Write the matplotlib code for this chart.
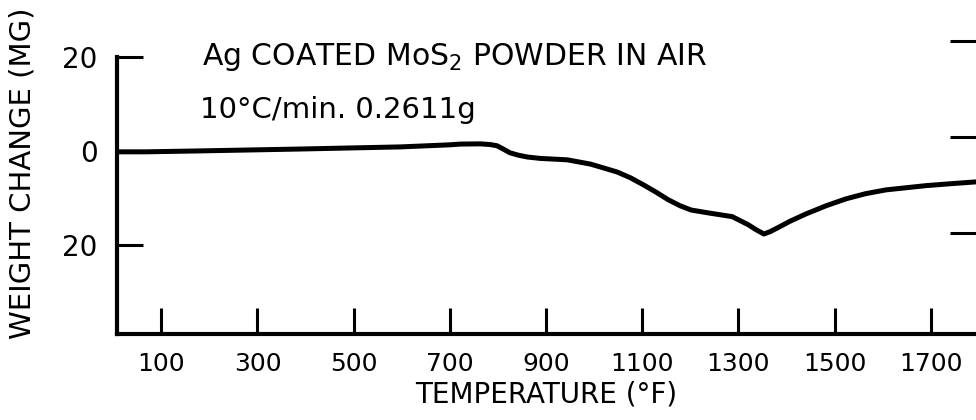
import matplotlib
matplotlib.use("Agg")
import matplotlib.pyplot as plt
from matplotlib.ticker import FixedLocator, FixedFormatter

# Данные (температура в °F, изменение массы в мг)
temp_f = [8, 67, 181, 389, 597, 701, 721, 763, 784, 798, 811, 825, 842, 861,
          888, 944, 992, 1012, 1048, 1075, 1102, 1129, 1154, 1179, 1202, 1237,
          1262, 1287, 1320, 1337, 1353, 1366, 1385, 1407, 1441, 1482, 1524,
          1565, 1607, 1690, 1740, 1794]
weight_mg = [-0.2, -0.2, 0.0, 0.4, 0.85, 1.3, 1.45, 1.5, 1.35, 1.1, 0.4, -0.4,
             -0.9, -1.3, -1.6, -1.9, -2.8, -3.4, -4.5, -5.7, -7.2, -8.8, -10.4,
             -11.7, -12.6, -13.2, -13.6, -14.0, -15.7, -16.8, -17.7, -17.2,
             -16.2, -15.0, -13.4, -11.7, -10.2, -9.1, -8.3, -7.4, -7.0, -6.6]

x_ticks = [100, 300, 500, 700, 900, 1100, 1300, 1500, 1700]
x_labels = ["100", "300", "500", "700", "900", "1100", "1300", "1500", "1700"]
y_ticks = [-20, 0, 20]
y_labels = ["20", "0", "20"]
right_ticks = [0, 20, 40]

title_1 = "Ag COATED MoS$_2$ POWDER IN AIR"
title_2 = "10°C/min. 0.2611g"

plt.rcParams['font.family'] = ['DejaVu Sans']
plt.rcParams['mathtext.fontset'] = 'dejavusans'

fig = plt.figure(figsize=(9.76, 4.2), dpi=100)
ax = fig.add_axes([117 / 976, 86 / 420, 859 / 976, 277 / 420])

ax.plot(temp_f, weight_mg, color='black', linewidth=3.6,
        solid_capstyle='round', solid_joinstyle='round')

ax.set_xlim(8, 1794)
ax.set_ylim(-39, 20)

# Оси как на старом графике: только левая и нижняя, засечки внутрь
for spine in ['top', 'right']:
    ax.spines[spine].set_visible(False)
for spine in ['left', 'bottom']:
    ax.spines[spine].set_linewidth(3)

ax.xaxis.set_major_locator(FixedLocator(x_ticks))
ax.xaxis.set_major_formatter(FixedFormatter(x_labels))
ax.yaxis.set_major_locator(FixedLocator(y_ticks))
ax.yaxis.set_major_formatter(FixedFormatter(y_labels))
ax.tick_params(axis='both', direction='in', width=2.2, length=19, color='black')
ax.tick_params(axis='x', pad=13, labelsize=18)
ax.tick_params(axis='y', pad=14, labelsize=20)

ax.set_xlabel("TEMPERATURE (°F)", fontsize=20)
ax.xaxis.set_label_coords(0.5, -0.168)
ax.set_ylabel("WEIGHT CHANGE (MG)", fontsize=21)
ax.yaxis.set_label_coords(-0.094, 0.58)

# Правая шкала (сама ось за краем картинки, видны только засечки)
ax_r = fig.add_axes([117 / 976, 86 / 420, 859 / 976, 309 / 420])
ax_r.set_facecolor('none')
ax_r.set_ylim(-21, 43.4)
ax_r.set_xticks([])
for spine in ax_r.spines.values():
    spine.set_visible(False)
ax_r.yaxis.tick_right()
ax_r.yaxis.set_major_locator(FixedLocator(right_ticks))
ax_r.yaxis.set_major_formatter(FixedFormatter(["", "", ""]))
ax_r.tick_params(axis='y', direction='in', width=2.2, length=19, color='black')

fig.text(202 / 976, 1 - 65 / 420, title_1, fontsize=21.5, va='baseline', ha='left')
fig.text(200 / 976, 1 - 118 / 420, title_2, fontsize=21, va='baseline', ha='left')

fig.savefig("out.png", dpi=100)
